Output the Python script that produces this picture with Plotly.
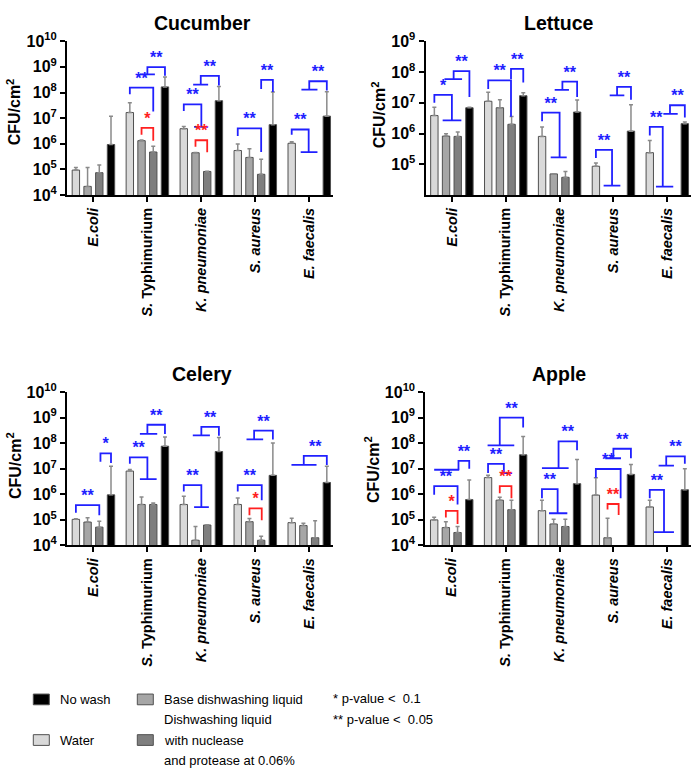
import plotly.graph_objects as go

FONT = "Liberation Sans, Arial, sans-serif"

CATEGORIES = ["E.coli", "S. Typhimurium", "K. pneumoniae", "S. aureus", "E. faecalis"]
CAT_TICKTEXT = ["<b><i>E.coli</i></b>", "<b><i>S.</i> Typhimurium</b>",
                "<b><i>K. pneumoniae</i></b>", "<b><i>S. aureus</i></b>",
                "<b><i>E. faecalis</i></b>"]
SERIES = ["Water", "Base dishwashing liquid",
          "Dishwashing liquid with nuclease and protease at 0.06%", "No wash"]
SERIES_COLORS = ["#d9d9d9", "#a6a6a6", "#7f7f7f", "#000000"]

# ---- Cucumber (CFU/cm2, mean and top of error bar) ----
cuc_water = [9.5e4, 1.66e7, 3.9e6, 5.5e5, 1.05e6]
cuc_water_top = [1.2e5, 4.0e7, 4.7e6, 9.8e5, 1.2e6]
cuc_base = [2.2e4, 1.33e6, 4.5e5, 2.95e5, None]
cuc_base_top = [1.2e5, 1.4e6, 4.6e5, 6.5e5, None]
cuc_nuc = [7.5e4, 4.8e5, 8.4e4, 6.5e4, None]
cuc_nuc_top = [1.5e5, 8.0e5, 8.6e4, 2.5e5, None]
cuc_nowash = [9.4e5, 1.66e8, 4.8e7, 5.6e6, 1.2e7]
cuc_nowash_top = [1.2e7, 4.0e8, 1.7e8, 1.05e8, 1.07e8]

# ---- Lettuce ----
let_water = [3.85e6, 1.12e7, 8.1e5, 8.7e4, 2.4e5]
let_water_top = [7.2e6, 2.2e7, 1.65e6, 1.1e5, 6.0e5]
let_base = [8.3e5, 6.9e6, 4.9e4, None, None]
let_base_top = [9.8e5, 1.25e7, 5.0e4, None, None]
let_nuc = [8.1e5, 2.0e6, 3.8e4, None, None]
let_nuc_top = [1.12e6, 3.6e6, 5.9e4, None, None]
let_nowash = [6.9e6, 1.7e7, 5.0e6, 1.2e6, 2.1e6]
let_nowash_top = [7.2e6, 2.1e7, 1.23e7, 8.7e6, 2.4e6]

# ---- Celery ----
cel_water = [1.05e5, 8.1e6, 4.0e5, 4.0e5, 7.8e4]
cel_water_top = [1.1e5, 9.4e6, 8.3e5, 7.1e5, 1.17e5]
cel_base = [8.2e4, 4.0e5, 1.6e4, 8.5e4, 6.0e4]
cel_base_top = [1.2e5, 7.8e5, 5.5e4, 1.13e5, 7.3e4]
cel_nuc = [5.2e4, 4.0e5, 6.3e4, 1.6e4, 2.0e4]
cel_nuc_top = [8.9e4, 4.6e5, 6.5e4, 2.3e4, 9.3e4]
cel_nowash = [9.5e5, 7.6e7, 4.7e7, 5.5e6, 2.9e6]
cel_nowash_top = [1.25e7, 1.75e8, 1.67e8, 1.02e8, 1.25e7]

# ---- Apple ----
app_water = [1.0e5, 4.5e6, 2.3e5, 9.3e5, 3.2e5]
app_water_top = [1.27e5, 5.5e6, 5.9e5, 4.4e6, 5.9e5]
app_base = [5.0e4, 5.9e5, 6.9e4, 2.0e4, None]
app_base_top = [8.5e4, 7.6e5, 1.07e5, 1.17e5, None]
app_nuc = [3.2e4, 2.5e5, 5.5e4, None, None]
app_nuc_top = [5.5e4, 5.9e5, 1.05e5, None, None]
app_nowash = [6.2e5, 3.5e7, 2.6e6, 6.0e6, 1.5e6]
app_nowash_top = [3.6e6, 1.8e8, 2.3e7, 1.45e7, 1.0e7]

# ---- Significance brackets: (group, left end, right end, top level (log10), label, colour)
# end = (bar slot 0..3, drop level log10[, base from slot, base to slot])
BLUE = "#2020ff"
RED = "#ff2020"
cuc_brackets = [
    (1, (0, 7.93), (2, 7.26), 8.19, "**", BLUE),
    (1, (1.5, 8.71, 0.86, 2.14), (3, 8.65), 8.99, "**", BLUE),
    (1, (1, 6.35), (2, 6.12), 6.62, "*", RED),
    (2, (0, 7.28), (1.5, 6.66, 0.88, 2.08), 7.54, "**", BLUE),
    (2, (1.45, 8.31, 0.8, 2.08), (3, 8.27), 8.65, "**", BLUE),
    (2, (1, 5.89), (2, 5.67), 6.14, "**", RED),
    (3, (0, 6.31), (2, 5.68), 6.60, "**", BLUE),
    (3, (2, 8.14), (3, 8.02), 8.49, "**", BLUE),
    (4, (0, 6.35), (1.45, 5.68, 0.77, 2.2), 6.56, "**", BLUE),
    (4, (1.5, 8.11, 0.83, 2.2), (3, 8.08), 8.44, "**", BLUE),
]
let_brackets = [
    (0, (0, 7.0), (1.5, 6.43, 0.71, 2.31), 7.26, "*", BLUE),
    (0, (1.65, 7.77, 0.86, 2.37), (3, 7.19), 8.03, "**", BLUE),
    (1, (0, 7.45), (1.95, 6.55), 7.73, "**", BLUE),
    (1, (1.95, 7.77), (3, 7.66), 8.10, "**", BLUE),
    (2, (0, 6.40), (1.5, 5.23, 0.74, 2.11), 6.68, "**", BLUE),
    (2, (1.74, 7.42, 1.08, 2.3), (3, 7.19), 7.69, "**", BLUE),
    (3, (0, 5.21), (1.38, 4.31, 0.66, 2.09), 5.47, "**", BLUE),
    (3, (1.81, 7.24, 1.18, 2.43), (3, 7.10), 7.52, "**", BLUE),
    (4, (0, 5.94), (1.11, 4.28, 0.53, 2.01), 6.22, "**", BLUE),
    (4, (1.73, 6.64, 1.16, 2.39), (3, 6.52), 6.92, "**", BLUE),
]
cel_brackets = [
    (0, (0, 5.28), (2, 5.18), 5.58, "**", BLUE),
    (0, (2.1, 7.27), (3, 7.22), 7.60, "*", BLUE),
    (1, (0, 7.19), (1.5, 6.59, 0.86, 2.29), 7.44, "**", BLUE),
    (1, (1.5, 8.36, 0.86, 2.34), (3, 8.36), 8.72, "**", BLUE),
    (2, (0, 6.11), (1.5, 5.50, 0.88, 2.14), 6.36, "**", BLUE),
    (2, (1.5, 8.30, 0.77, 2.23), (3, 8.29), 8.64, "**", BLUE),
    (3, (0, 6.11), (2.05, 5.77), 6.36, "**", BLUE),
    (3, (1, 5.18), (2.05, 4.99), 5.45, "*", RED),
    (3, (1.4, 8.15, 0.75, 2.17), (3, 8.14), 8.49, "**", BLUE),
    (4, (1.03, 7.15, -0.02, 2.12), (3, 7.15), 7.50, "**", BLUE),
]
app_brackets = [
    (0, (1, 5.09), (2, 4.84), 5.35, "*", RED),
    (0, (0, 5.98), (2, 5.60), 6.32, "**", BLUE),
    (0, (2.08, 6.96, 0.0, 2.14), (3, 7.00), 7.31, "**", BLUE),
    (1, (0, 6.83), (1.35, 6.83, 1.07, 2.06), 7.19, "**", BLUE),
    (1, (1, 6.04), (2, 5.85), 6.32, "**", RED),
    (1, (1.0, 7.91, -0.04, 2.24), (3, 8.61), 9.0, "**", BLUE),
    (2, (0, 5.85), (1.34, 5.26, 0.6, 2.17), 6.20, "**", BLUE),
    (2, (1.42, 7.02, 0.0, 2.28), (3, 7.72), 8.07, "**", BLUE),
    (3, (0, 6.65), (2.12, 5.85), 6.99, "**", BLUE),
    (3, (1, 5.41), (1.95, 5.19), 5.62, "**", RED),
    (3, (1.5, 7.41, 0.8, 2.15), (3, 7.41), 7.78, "**", BLUE),
    (4, (0, 5.85), (1.22, 4.52, 0.36, 2.07), 6.17, "**", BLUE),
    (4, (1.41, 7.12, 0.76, 2.07), (3, 7.19), 7.48, "**", BLUE),
]

PANELS = [
    dict(title="Cucumber", means=[cuc_water, cuc_base, cuc_nuc, cuc_nowash],
         tops=[cuc_water_top, cuc_base_top, cuc_nuc_top, cuc_nowash_top],
         brackets=cuc_brackets, ymax=10, ylabels_from=4,
         xdom=[67 / 696, 333 / 696], ydom=[1 - 189 / 781, 1 - 31 / 781],
         title_xy=(202, 12), ylab_xy=(14, 104)),
    dict(title="Lettuce", means=[let_water, let_base, let_nuc, let_nowash],
         tops=[let_water_top, let_base_top, let_nuc_top, let_nowash_top],
         brackets=let_brackets, ymax=9, ylabels_from=5,
         xdom=[425.5 / 696, 691 / 696], ydom=[1 - 189 / 781, 1 - 31 / 781],
         title_xy=(559, 12), ylab_xy=(379, 107)),
    dict(title="Celery", means=[cel_water, cel_base, cel_nuc, cel_nowash],
         tops=[cel_water_top, cel_base_top, cel_nuc_top, cel_nowash_top],
         brackets=cel_brackets, ymax=10, ylabels_from=4,
         xdom=[67 / 696, 333 / 696], ydom=[1 - 548.5 / 781, 1 - 391 / 781],
         title_xy=(202, 373), ylab_xy=(14, 467)),
    dict(title="Apple", means=[app_water, app_base, app_nuc, app_nowash],
         tops=[app_water_top, app_base_top, app_nuc_top, app_nowash_top],
         brackets=app_brackets, ymax=10, ylabels_from=4,
         xdom=[425.3 / 696, 691 / 696], ydom=[1 - 548.5 / 781, 1 - 391 / 781],
         title_xy=(559, 373), ylab_xy=(372, 470)),
]

PITCH = 0.217
BAR_W = 0.137
W, H = 696, 781


def slot_x(g, slot):
    return g + (slot - 1.5) * PITCH


fig = go.Figure()
annotations = []
shapes = []

for pi, p in enumerate(PANELS):
    sfx = "" if pi == 0 else str(pi + 1)
    xa, ya = "x" + sfx, "y" + sfx
    for si in range(4):
        vals = p["means"][si]
        tops = p["tops"][si]
        xs = [slot_x(g, si) for g in range(len(CATEGORIES))]
        plus = [(t - v) if (v is not None and t is not None) else 0 for v, t in zip(vals, tops)]
        fig.add_trace(go.Bar(
            x=xs, y=vals, width=BAR_W, name=SERIES[si], showlegend=False,
            marker=dict(color=SERIES_COLORS[si], line=dict(color="#505050", width=1)),
            error_y=dict(type="data", symmetric=False, array=plus,
                         arrayminus=[0] * len(plus), color="#8a8a8a",
                         thickness=1.5, width=2),
            xaxis=xa, yaxis=ya))
    # brackets
    for color in (BLUE, RED):
        lx, ly, tx, ty, tt = [], [], [], [], []
        for (g, le, re, top, lab, col) in p["brackets"]:
            if col != color:
                continue
            xl, xr = slot_x(g, le[0]), slot_x(g, re[0])
            lx += [xl, xl, xr, xr, None]
            ly += [10 ** le[1], 10 ** top, 10 ** top, 10 ** re[1], None]
            for e in (le, re):
                if len(e) == 4:
                    lx += [slot_x(g, e[2]), slot_x(g, e[3]), None]
                    ly += [10 ** e[1], 10 ** e[1], None]
            tx.append((xl + xr) / 2)
            ty.append(10 ** top)
            tt.append("<b>" + lab + "</b>")
        if lx:
            fig.add_trace(go.Scatter(x=lx, y=ly, mode="lines", showlegend=False,
                                     line=dict(color=color, width=1.8),
                                     xaxis=xa, yaxis=ya, hoverinfo="skip"))
            fig.add_trace(go.Scatter(x=tx, y=ty, mode="text", text=tt,
                                     textposition="top center", showlegend=False,
                                     textfont=dict(color=color, size=16, family=FONT),
                                     xaxis=xa, yaxis=ya, hoverinfo="skip"))
    # axes
    ytv = [10 ** k for k in range(p["ylabels_from"], p["ymax"] + 1)]
    ytt = ["<b>10<sup>%d</sup></b>" % k for k in range(p["ylabels_from"], p["ymax"] + 1)]
    fig.update_layout(**{
        "xaxis" + sfx: dict(domain=p["xdom"], anchor=ya, range=[-0.49, 4.44],
                            tickvals=list(range(len(CATEGORIES))), ticktext=CAT_TICKTEXT,
                            tickangle=-90, ticks="outside", ticklen=5, tickwidth=2,
                            tickcolor="black", showline=True, linewidth=2,
                            linecolor="black", showgrid=False, zeroline=False,
                            tickfont=dict(family=FONT, size=14.5, color="black")),
        "yaxis" + sfx: dict(domain=p["ydom"], anchor=xa, type="log",
                            range=[4, p["ymax"]], tickvals=ytv, ticktext=ytt,
                            ticks="outside", ticklen=5, tickwidth=2, tickcolor="black",
                            showline=True, linewidth=2, linecolor="black",
                            showgrid=False, zeroline=False,
                            tickfont=dict(family=FONT, size=16, color="black")),
    })
    annotations.append(dict(text="<b>" + p["title"] + "</b>", x=p["title_xy"][0] / W,
                            y=1 - p["title_xy"][1] / H, xref="paper", yref="paper",
                            showarrow=False, xanchor="center", yanchor="middle",
                            font=dict(family=FONT, size=19.5, color="black")))
    annotations.append(dict(text="<b>CFU/cm<sup>2</sup></b>", x=p["ylab_xy"][0] / W,
                            y=1 - p["ylab_xy"][1] / H, xref="paper", yref="paper",
                            showarrow=False, textangle=-90, xanchor="center",
                            yanchor="middle",
                            font=dict(family=FONT, size=16, color="black")))

# ---- legend (drawn) ----
LEGEND_ITEMS = [
    (3, 33.3, 701, ["No wash"]),
    (0, 33.3, 742.7, ["Water"]),
    (1, 137.3, 701, ["Base dishwashing liquid"]),
    (2, 137.3, 742.7, ["Dishwashing liquid", "with nuclease", "and protease at 0.06%"]),
]
for si, x0, y0, lines in LEGEND_ITEMS:
    shapes.append(dict(type="rect", xref="paper", yref="paper",
                       x0=x0 / W, x1=(x0 + 16) / W, y0=1 - y0 / H, y1=1 - (y0 + 11) / H,
                       fillcolor=SERIES_COLORS[si], line=dict(color="#505050", width=1)))
    if len(lines) == 1:
        ys = [y0 + 5.7]
    else:
        ys = [y0 + 5.7 - 21, y0 + 5.7, y0 + 5.7 + 21]
    for t, yy in zip(lines, ys):
        annotations.append(dict(text=t, x=(x0 + 25) / W, y=1 - yy / H, xref="paper",
                                yref="paper", showarrow=False, xanchor="left",
                                yanchor="middle",
                                font=dict(family=FONT, size=13, color="black")))
for t, yy in [("* p-value <  0.1", 706), ("** p-value <  0.05", 727.3)]:
    annotations.append(dict(text=t.replace("  ", "&nbsp; "), x=331 / W, y=1 - yy / H,
                            xref="paper", yref="paper", showarrow=False,
                            xanchor="left", yanchor="middle",
                            font=dict(family=FONT, size=13, color="black")))

fig.update_layout(width=W, height=H, margin=dict(l=0, r=0, t=0, b=0),
                  paper_bgcolor="white", plot_bgcolor="white", barmode="overlay",
                  annotations=annotations, shapes=shapes, showlegend=False,
                  font=dict(family=FONT, color="black"))

fig.write_html("out.html")
